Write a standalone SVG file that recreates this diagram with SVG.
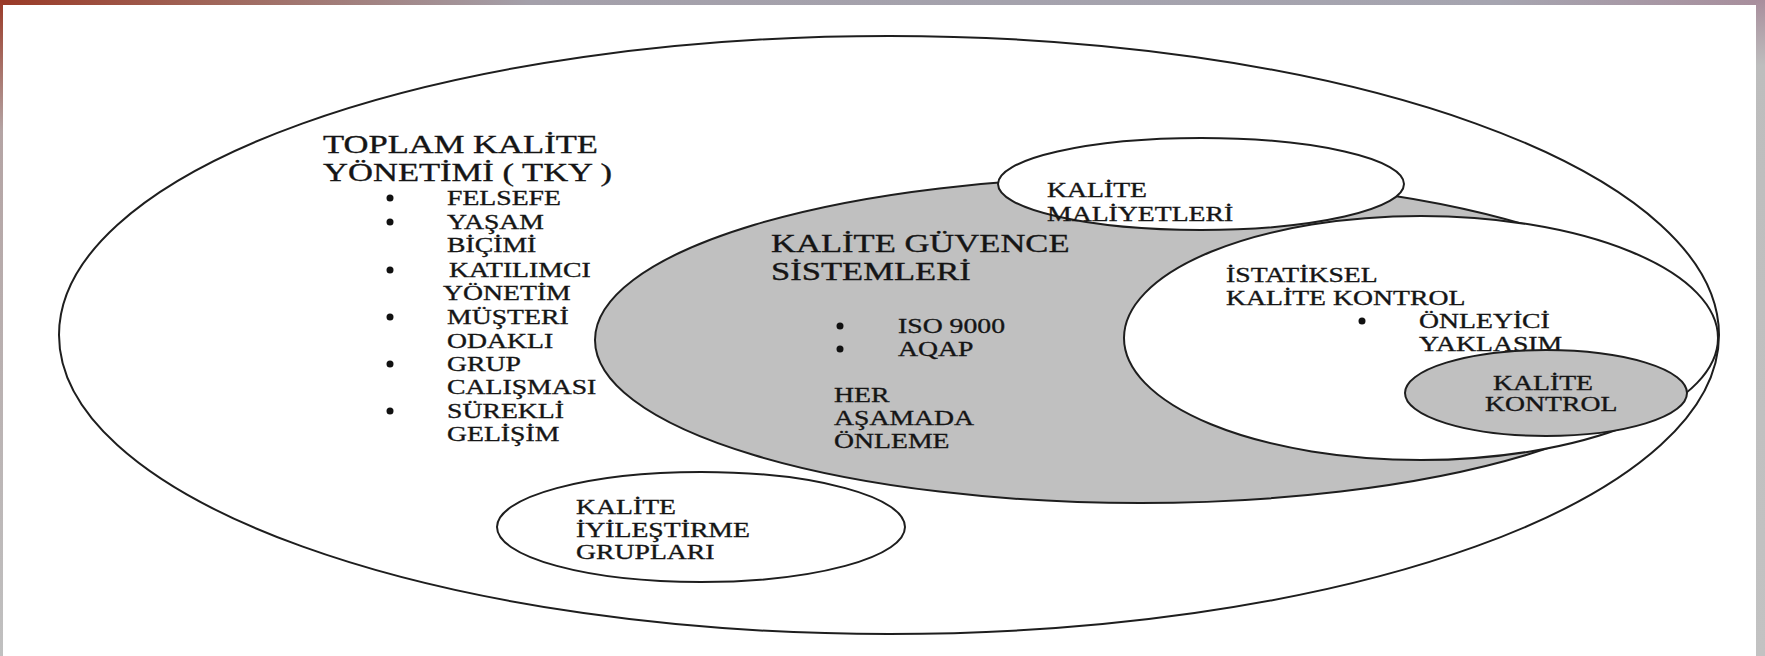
<svg xmlns="http://www.w3.org/2000/svg" width="1765" height="656" viewBox="0 0 1765 656">
<defs>
<linearGradient id="topbar" x1="0" y1="0" x2="1" y2="0">
<stop offset="0" stop-color="#9a3a27"/>
<stop offset="0.12" stop-color="#a0665a"/>
<stop offset="0.3" stop-color="#a4a0aa"/>
<stop offset="0.85" stop-color="#a6a5b0"/>
<stop offset="1" stop-color="#a88e9c"/>
</linearGradient>
<linearGradient id="leftbar" x1="0" y1="0" x2="0" y2="1">
<stop offset="0" stop-color="#9a3a27"/>
<stop offset="0.2" stop-color="#b4a4a4"/>
<stop offset="1" stop-color="#c0c0c0"/>
</linearGradient>
<linearGradient id="rightbar" x1="0" y1="0" x2="0" y2="1">
<stop offset="0" stop-color="#a88e9c"/>
<stop offset="0.1" stop-color="#bdbdbd"/>
<stop offset="1" stop-color="#c2c2c2"/>
</linearGradient>
<style>
.shape{stroke:#1e1e1e;stroke-width:2}
.white{fill:#ffffff}
.gray{fill:#c0c0c0}
text{font-family:"Liberation Serif","Times New Roman",serif;fill:#151515;stroke:#151515;stroke-width:0.35}
.h{font-size:26px}
.b{font-size:22px}
.dot{fill:#111}
</style>
</defs>
<rect x="0" y="0" width="1765" height="656" fill="#ffffff"/>
<rect x="0" y="0" width="1765" height="5" fill="url(#topbar)"/>
<rect x="0" y="0" width="3" height="656" fill="url(#leftbar)"/>
<rect x="1756" y="0" width="9" height="656" fill="url(#rightbar)"/>

<g id="tky">
<ellipse class="shape white" cx="889" cy="335" rx="830" ry="299"/>
<text class="h" transform="translate(323,153) scale(1.33,1)">TOPLAM KALİTE</text>
<text class="h" transform="translate(323,181) scale(1.33,1)">YÖNETİMİ ( TKY )</text>
<circle class="dot" cx="390" cy="198" r="3.5"/>
<circle class="dot" cx="390" cy="222" r="3.5"/>
<circle class="dot" cx="390" cy="270" r="3.5"/>
<circle class="dot" cx="390" cy="317" r="3.5"/>
<circle class="dot" cx="390" cy="364" r="3.5"/>
<circle class="dot" cx="390" cy="411" r="3.5"/>
<text class="b" transform="translate(447,205) scale(1.26,1)">FELSEFE</text>
<text class="b" transform="translate(447,229) scale(1.26,1)">YAŞAM</text>
<text class="b" transform="translate(447,252) scale(1.26,1)">BİÇİMİ</text>
<text class="b" transform="translate(449,277) scale(1.26,1)">KATILIMCI</text>
<text class="b" transform="translate(443,300) scale(1.26,1)">YÖNETİM</text>
<text class="b" transform="translate(447,324) scale(1.26,1)">MÜŞTERİ</text>
<text class="b" transform="translate(447,348) scale(1.26,1)">ODAKLI</text>
<text class="b" transform="translate(447,371) scale(1.26,1)">GRUP</text>
<text class="b" transform="translate(447,394) scale(1.26,1)">CALIŞMASI</text>
<text class="b" transform="translate(447,418) scale(1.26,1)">SÜREKLİ</text>
<text class="b" transform="translate(447,441) scale(1.26,1)">GELİŞİM</text>
</g>

<g id="guvence">
<ellipse class="shape gray" cx="1140" cy="340" rx="545" ry="163"/>
<text class="h" transform="translate(771,252) scale(1.33,1)">KALİTE GÜVENCE</text>
<text class="h" transform="translate(771,280) scale(1.33,1)">SİSTEMLERİ</text>
<circle class="dot" cx="840" cy="326" r="3.5"/>
<circle class="dot" cx="840" cy="349" r="3.5"/>
<text class="b" transform="translate(898,333) scale(1.26,1)">ISO 9000</text>
<text class="b" transform="translate(898,356) scale(1.26,1)">AQAP</text>
<text class="b" transform="translate(834,402) scale(1.26,1)">HER</text>
<text class="b" transform="translate(834,425) scale(1.26,1)">AŞAMADA</text>
<text class="b" transform="translate(834,448) scale(1.26,1)">ÖNLEME</text>
</g>

<g id="maliyet">
<ellipse class="shape white" cx="1201" cy="184" rx="203" ry="46"/>
<text class="b" transform="translate(1047,197) scale(1.26,1)">KALİTE</text>
<text class="b" transform="translate(1047,221) scale(1.26,1)">MALİYETLERİ</text>
</g>

<g id="istatistik">
<ellipse class="shape white" cx="1421" cy="338" rx="297" ry="122"/>
<text class="b" transform="translate(1226,282) scale(1.26,1)">İSTATİKSEL</text>
<text class="b" transform="translate(1226,305) scale(1.26,1)">KALİTE KONTROL</text>
<circle class="dot" cx="1362" cy="321" r="3.5"/>
<text class="b" transform="translate(1419,328) scale(1.26,1)">ÖNLEYİCİ</text>
<text class="b" transform="translate(1419,351) scale(1.26,1)">YAKLAŞIM</text>
</g>

<g id="kontrol">
<ellipse class="shape gray" cx="1546" cy="393" rx="141" ry="43"/>
<text class="b" transform="translate(1493,390) scale(1.26,1)">KALİTE</text>
<text class="b" transform="translate(1485,411) scale(1.26,1)">KONTROL</text>
</g>

<g id="iyilestirme">
<ellipse class="shape white" cx="701" cy="527" rx="204" ry="55"/>
<text class="b" transform="translate(576,514) scale(1.26,1)">KALİTE</text>
<text class="b" transform="translate(576,537) scale(1.26,1)">İYİLEŞTİRME</text>
<text class="b" transform="translate(576,559) scale(1.26,1)">GRUPLARI</text>
</g>

<g id="connectors"/>
</svg>
